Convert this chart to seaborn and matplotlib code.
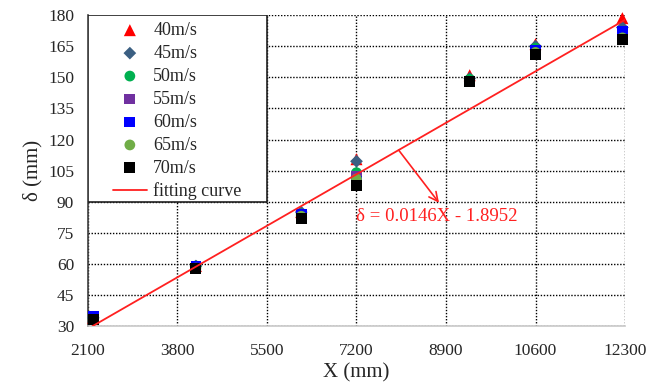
import numpy as np
import pandas as pd
import matplotlib.pyplot as plt
import seaborn as sns
from matplotlib.patches import Rectangle

# X positions (mm) and deflection values (mm)
x_vals = [2200, 4150, 6150, 7200, 9350, 10600, 12250]
d40 = [34, 59, 85, 110.5, 151, 166, 178.5]
d45 = [34, 59, 85, 109.5, 149.5, 165, 174]
d50 = [34, 59, 84, 104, 149, 164, 172]
d55 = [33, 58, 83, 102, 148, 163, 171]
d60 = [34.5, 59, 84, 100, 148, 163, 172]
d65 = [33, 58, 83, 101, 148, 162, 169]
d70 = [33, 58, 82, 98, 148, 161, 168]

speeds = ['40m/s', '45m/s', '50m/s', '55m/s', '60m/s', '65m/s', '70m/s']
series = [d40, d45, d50, d55, d60, d65, d70]

# fitted line coefficients from the annotation
slope, intercept = 0.0146, -1.8952
fit_x = [2185, 12300]

x_ticks = [2100, 3800, 5500, 7200, 8900, 10600, 12300]
y_ticks = [30, 45, 60, 75, 90, 105, 120, 135, 150, 165, 180]

colors = {'40m/s': '#ff0000', '45m/s': '#3b5f82', '50m/s': '#00b050',
          '55m/s': '#7030a0', '60m/s': '#0000ff', '65m/s': '#70ad47',
          '70m/s': '#000000'}
markers = {'40m/s': '^', '45m/s': 'D', '50m/s': 'o', '55m/s': 's',
           '60m/s': 's', '65m/s': 'o', '70m/s': 's'}
sizes = {'40m/s': 75, '45m/s': 42, '50m/s': 60, '55m/s': 60,
         '60m/s': 60, '65m/s': 60, '70m/s': 62}

df = pd.DataFrame({
    'X': np.tile(x_vals, len(speeds)),
    'd': np.concatenate(series),
    'speed': np.repeat(speeds, len(x_vals)),
})
fit_df = pd.DataFrame({'X': fit_x, 'd': [slope * v + intercept for v in fit_x]})

sns.set_style('white')
plt.rcParams['font.family'] = ['Liberation Serif', 'DejaVu Serif']

fig, ax = plt.subplots(figsize=(6.47, 3.86), dpi=100)
fig.subplots_adjust(left=0.136, right=0.966, bottom=0.155, top=0.961)

for sp in speeds:
    sub = df[df['speed'] == sp]
    sns.scatterplot(data=sub, x='X', y='d', ax=ax, color=colors[sp],
                    marker=markers[sp], s=sizes[sp], edgecolor='none',
                    label=sp, zorder=3, clip_on=False)

sns.lineplot(data=fit_df, x='X', y='d', ax=ax, color='#ff2020', lw=1.3,
             label='fitting curve', zorder=4)

ax.set_xlim(2100, 12300)
ax.set_ylim(30, 180)
ax.set_xticks(x_ticks)
ax.set_yticks(y_ticks)
ax.tick_params(axis='both', labelsize=12.5, length=0)
ax.tick_params(axis='x', pad=12)
ax.tick_params(axis='y', pad=10)
ax.grid(True, color='black', linestyle=(0, (1, 1.2)), linewidth=1.0)

for s in ['top', 'right']:
    ax.spines[s].set_visible(False)
ax.spines['left'].set_color('#404040')
ax.spines['bottom'].set_color('#c8c8c8')
ax.spines['left'].set_linewidth(1.2)
ax.spines['bottom'].set_linewidth(1.2)

ax.set_xlabel('X (mm)', fontsize=15, labelpad=3)
ax.set_ylabel('δ (mm)', fontsize=15, labelpad=4)

# callout for the fitted equation
ax.annotate('', xy=(8767, 89.5), xytext=(8000, slope * 8000 + intercept),
            arrowprops=dict(arrowstyle='->', color='#ff2020', lw=1.2,
                            shrinkA=0, shrinkB=0, mutation_scale=16))
ax.text(8730, 83.0, 'δ = 0.0146X - 1.8952', color='#ff2020', fontsize=13.5,
        ha='center', va='center')

# legend box with its own frame
box = Rectangle((0, 0.4), 0.333, 0.6, transform=ax.transAxes,
                facecolor='white', edgecolor='#202020', lw=1.2, zorder=4.5)
ax.add_patch(box)
leg = ax.legend(loc='upper left', bbox_to_anchor=(0.046, 0.978),
                borderaxespad=0, fontsize=13, frameon=False, borderpad=0,
                labelspacing=0.33, handlelength=1.9, handletextpad=0.35)
leg.set_zorder(5)

fig.savefig('out.png', dpi=100)
